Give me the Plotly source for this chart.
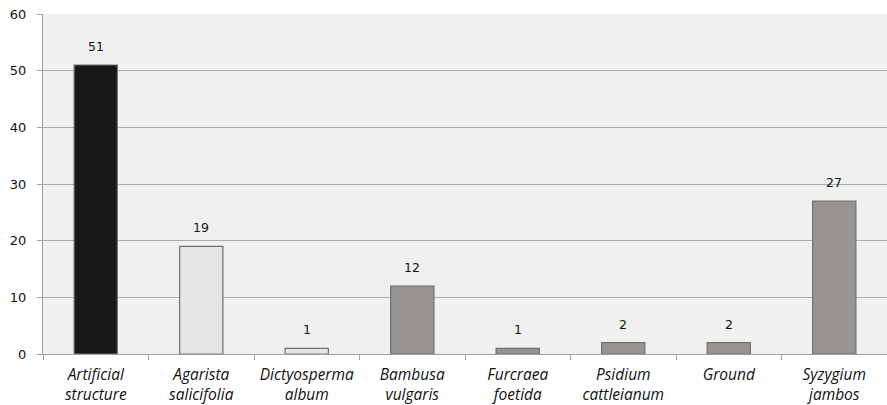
import plotly.graph_objects as go

# Perch substrates and the number of observations on each
categories = [
    "Artificial<br>structure",
    "Agarista<br>salicifolia",
    "Dictyosperma<br>album",
    "Bambusa<br>vulgaris",
    "Furcraea<br>foetida",
    "Psidium<br>cattleianum",
    "Ground",
    "Syzygium<br>jambos",
]
counts = [51, 19, 1, 12, 1, 2, 2, 27]
bar_colors = ["#181818", "#E4E6E5", "#E4E6E5", "#989492",
              "#989492", "#989492", "#989492", "#989492"]
y_ticks = [0, 10, 20, 30, 40, 50, 60]

fig = go.Figure(
    go.Bar(
        x=categories,
        y=counts,
        marker=dict(color=bar_colors, line=dict(color="#707070", width=1.2)),
        width=0.41,
        cliponaxis=False,
    )
)

# value labels floating above each bar
for cat, val in zip(categories, counts):
    fig.add_annotation(
        x=cat, y=val, text=str(val), showarrow=False,
        yanchor="bottom", yshift=9,
        font=dict(family="DejaVu Sans", size=12.5, color="#111111"),
    )

fig.update_layout(
    width=887,
    height=405,
    margin=dict(l=43, r=0, t=14, b=51),
    paper_bgcolor="white",
    plot_bgcolor="#F0F0F0",
    showlegend=False,
)

fig.update_xaxes(
    ticks="outside",
    tickson="boundaries",
    ticklen=5,
    tickcolor="#A0A0A0",
    showline=True,
    linecolor="#A0A0A0",
    linewidth=1,
    showgrid=False,
    ticklabelstandoff=6,
    tickfont=dict(family="Open Sans", size=15.5, color="#111111", style="italic"),
)

fig.update_yaxes(
    range=[0, 60],
    tickvals=y_ticks,
    ticks="outside",
    ticklen=5,
    tickcolor="#A0A0A0",
    showline=True,
    linecolor="#A0A0A0",
    linewidth=1,
    showgrid=True,
    gridcolor="#ABABAB",
    gridwidth=1,
    zeroline=False,
    ticklabelstandoff=8,
    tickfont=dict(family="DejaVu Sans", size=13, color="#111111"),
)

fig.write_html("out.html")
